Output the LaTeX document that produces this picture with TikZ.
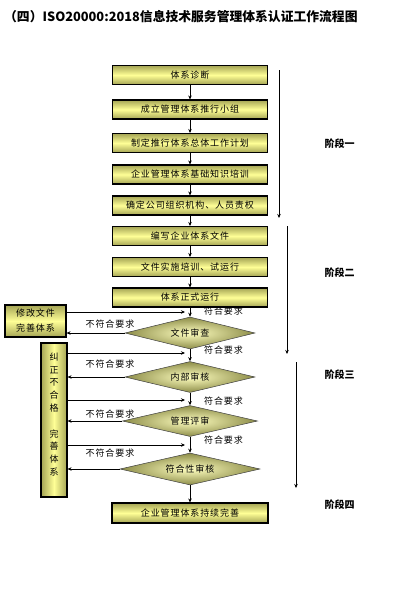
\documentclass[tikz,border=0pt]{standalone}
\usepackage{fontspec}
\setmainfont{Noto Sans CJK SC}
\newfontfamily\boxfont[LetterSpace=10]{Noto Sans CJK SC}
\usepackage{tikz}
\usetikzlibrary{arrows.meta, shapes.geometric}

\definecolor{olivedark}{RGB}{165,165,85}
\definecolor{yellowlight}{RGB}{255,255,150}

\begin{document}
\begin{tikzpicture}[x=1pt, y=-1pt,
    stepbox/.style={draw, line width=1.1pt, minimum width=155pt, minimum height=19pt, inner sep=0pt,
      top color=olivedark, bottom color=olivedark, middle color=yellowlight,
      font=\boxfont\fontsize{9}{10}\selectfont},
    check/.style={diamond, aspect=4, draw=black!75, line width=0.5pt, inner sep=0pt,
      inner color=yellowlight!60!white, outer color=olivedark!85!black,
      font=\boxfont\fontsize{9}{10}\selectfont},
    flow/.style={line width=0.7pt, -{Stealth[length=4pt, width=3.5pt]}},
    phase/.style={line width=0.6pt, -{Stealth[length=4pt, width=3.5pt]}},
    note/.style={inner sep=0pt, font=\boxfont\fontsize{9}{10}\selectfont},
    stage/.style={inner sep=0pt, font=\bfseries\fontsize{10}{11}\selectfont}]
  \useasboundingbox (0,0) rectangle (403,598);

  % title
  \node[anchor=west, inner sep=0pt, font=\bfseries\fontsize{12.8}{14}\selectfont] (title) at (4,17)
    {（四）ISO20000:2018信息技术服务管理体系认证工作流程图};

  % main steps
  \node[stepbox] (b1) at (190,75) {体系诊断};
  \node[stepbox] (b2) at (190,109.5) {成立管理体系推行小组};
  \node[stepbox] (b3) at (190,143) {制定推行体系总体工作计划};
  \node[stepbox] (b4) at (190,174.5) {企业管理体系基础知识培训};
  \node[stepbox] (b5) at (190,205.5) {确定公司组织机构、人员责权};
  \node[stepbox] (b6) at (190,236) {编写企业体系文件};
  \node[stepbox] (b7) at (190,267) {文件实施培训、试运行};
  \node[stepbox] (b8) at (190,297.5) {体系正式运行};

  % checks
  \node[check, minimum width=130pt, minimum height=32pt] (d1) at (190,333) {文件审查};
  \node[check, minimum width=130pt, minimum height=31pt] (d2) at (190,377) {内部审核};
  \node[check, minimum width=135pt, minimum height=31pt] (d3) at (190,421) {管理评审};
  \node[check, minimum width=140pt, minimum height=32pt] (d4) at (190,469) {符合性审核};

  \node[stepbox, minimum width=156pt, minimum height=20pt] (done) at (190,513) {企业管理体系持续完善};

  % correction boxes
  \node[draw, line width=1.1pt, minimum width=61pt, minimum height=32pt, inner sep=0pt,
    top color=olivedark, bottom color=olivedark, middle color=yellowlight,
    align=center, font=\boxfont\fontsize{9}{15}\selectfont] (fix) at (35.5,321) {修改文件\\完善体系};
  \node[draw, line width=1.1pt, minimum width=26pt, minimum height=154pt, inner sep=0pt,
    left color=olivedark, right color=olivedark, middle color=yellowlight] (fixall) at (54,420) {};
  \node[inner sep=0pt, align=center, font=\fontsize{9}{12.8}\selectfont] (fixtext)
    at ([yshift=5.5pt]fixall.center) {纠\\正\\不\\合\\格\\[12.8pt]完\\善\\体\\系};

  % main flow
  \foreach \a/\b in {b1/b2, b2/b3, b3/b4, b4/b5, b5/b6, b6/b7, b7/b8, b8/d1, d1/d2, d2/d3, d3/d4, d4/done}
    \draw[flow] (\a.south) -- (\b.north);

  % back to the main line
  \coordinate (r1) at (185,312);
  \coordinate (r2) at (185,353);
  \coordinate (r3) at (185,400);
  \coordinate (r4) at (185,445);
  \draw[flow] (fix.east |- r1) -- (r1);
  \foreach \r in {r2, r3, r4}
    \draw[flow] (fixall.east |- \r) -- (\r);

  % rejected
  \draw[flow] (d1.west) -- (fix.east |- d1.west);
  \foreach \d in {d2, d3, d4}
    \draw[flow] (\d.west) -- (fixall.east |- \d.west);

  % labels
  \node[note] (ok1) at (223.5,311.5) {符合要求};
  \node[note] (ok2) at (223.5,350) {符合要求};
  \node[note] (ok3) at (223.5,401) {符合要求};
  \node[note] (ok4) at (223.5,440) {符合要求};
  \node[note] (no1) at (110,324) {不符合要求};
  \node[note] (no2) at (110,364) {不符合要求};
  \node[note] (no3) at (110,414) {不符合要求};
  \node[note] (no4) at (110,453) {不符合要求};

  % phases
  \coordinate (p1a) at (279,70);  \coordinate (p1b) at (279,218);
  \coordinate (p2a) at (287,226); \coordinate (p2b) at (287,354);
  \coordinate (p3a) at (296,362); \coordinate (p3b) at (296,488);
  \draw[phase] (p1a) -- (p1b);
  \draw[phase] (p2a) -- (p2b);
  \draw[phase] (p3a) -- (p3b);
  \node[stage] (s1) at (339.5,144) {阶段一};
  \node[stage] (s2) at (339.5,273) {阶段二};
  \node[stage] (s3) at (339.5,375) {阶段三};
  \node[stage] (s4) at (339.5,505) {阶段四};
\end{tikzpicture}
\end{document}
